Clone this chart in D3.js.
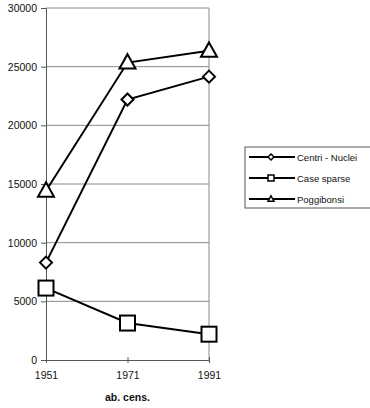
<!DOCTYPE html>
<html>
<head>
<meta charset="utf-8">
<script src="https://cdn.jsdelivr.net/npm/d3@7"></script>
<style>
  html, body { margin: 0; padding: 0; background: #fff; }
  svg { display: block; font-family: "Liberation Sans", Arial, sans-serif; }
</style>
</head>
<body>
<svg id="chart" width="370" height="408"></svg>
<script>
// Census years and resident population series
const years = ["1951", "1971", "1991"];
const centriNuclei = [8300, 22200, 24150];
const caseSparse = [6130, 3150, 2200];
const poggibonsi = [14430, 25350, 26350];
const yTicks = [0, 5000, 10000, 15000, 20000, 25000, 30000];
const seriesNames = ["Centri - Nuclei", "Case sparse", "Poggibonsi"];
const xTitle = "ab. cens.";

const series = [
  { name: seriesNames[0], values: centriNuclei, shape: "diamond" },
  { name: seriesNames[1], values: caseSparse, shape: "square" },
  { name: seriesNames[2], values: poggibonsi, shape: "triangle" }
];

const svg = d3.select("#chart");
const plotLeft = 46, plotRight = 209, plotTop = 8, plotBottom = 360;

const x = d3.scalePoint().domain(years).range([plotLeft, plotRight]);
const y = d3.scaleLinear().domain([0, 30000]).range([plotBottom, plotTop]);

// horizontal gridlines
svg.append("g").selectAll("line").data(yTicks.slice(1)).join("line")
  .attr("x1", plotLeft).attr("x2", plotRight)
  .attr("y1", d => y(d)).attr("y2", d => y(d))
  .attr("stroke", "#8a8a8a").attr("stroke-width", 1);

// right border of plot area
svg.append("line").attr("x1", plotRight).attr("x2", plotRight)
  .attr("y1", plotTop).attr("y2", plotBottom)
  .attr("stroke", "#8a8a8a").attr("stroke-width", 1);

// y axis
const yAxis = svg.append("g").attr("transform", `translate(${plotLeft},0)`)
  .call(d3.axisLeft(y).tickValues(yTicks).tickFormat(d3.format("d")).tickSize(5).tickPadding(4));
yAxis.select(".domain").attr("stroke", "#555");
yAxis.selectAll(".tick line").attr("stroke", "#555");
yAxis.selectAll("text").attr("font-size", 10.5).attr("fill", "#111");

// x axis
const xAxis = svg.append("g").attr("transform", `translate(0,${plotBottom})`)
  .call(d3.axisBottom(x).tickSize(3).tickPadding(9).tickSizeOuter(0));
xAxis.select(".domain").attr("stroke", "#555");
xAxis.selectAll(".tick line").attr("stroke", "#555").attr("y1", -3);
xAxis.selectAll("text").attr("font-size", 10.5).attr("fill", "#111");

svg.append("text").attr("x", x("1971")).attr("y", 401)
  .attr("text-anchor", "middle").attr("font-size", 10.5).attr("font-weight", "bold")
  .attr("fill", "#111").text(xTitle);

function marker(g, shape, cx, cy, s) {
  if (shape === "diamond") {
    g.append("path").attr("d", `M${cx},${cy - s}L${cx + s},${cy}L${cx},${cy + s}L${cx - s},${cy}Z`);
  } else if (shape === "square") {
    g.append("rect").attr("x", cx - s).attr("y", cy - s).attr("width", 2 * s).attr("height", 2 * s);
  } else {
    g.append("path").attr("d", `M${cx},${cy - s * 1.05}L${cx + s},${cy + s * 0.75}L${cx - s},${cy + s * 0.75}Z`);
  }
}

const line = d3.line().x((d, i) => x(years[i])).y(d => y(d));
const sizes = { diamond: 6, square: 7.5, triangle: 8 };

series.forEach(s => {
  svg.append("path").attr("d", line(s.values))
    .attr("fill", "none").attr("stroke", "#000").attr("stroke-width", 2);
});
series.forEach(s => {
  const g = svg.append("g").attr("fill", "#fff").attr("stroke", "#000").attr("stroke-width", 2);
  s.values.forEach((v, i) => marker(g, s.shape, x(years[i]), y(v), sizes[s.shape]));
});

// legend
const lg = svg.append("g");
lg.append("rect").attr("x", 245).attr("y", 147).attr("width", 130).attr("height", 61)
  .attr("fill", "#fff").attr("stroke", "#555").attr("stroke-width", 1);
series.forEach((s, i) => {
  const ly = 157 + i * 21;
  lg.append("line").attr("x1", 249).attr("x2", 295).attr("y1", ly).attr("y2", ly)
    .attr("stroke", "#000").attr("stroke-width", 2);
  const mg = lg.append("g").attr("fill", "#fff").attr("stroke", "#000").attr("stroke-width", 1.5);
  marker(mg, s.shape, 271, ly, 3);
  lg.append("text").attr("x", 297).attr("y", ly + 3.5).attr("font-size", 9.5)
    .attr("fill", "#111").text(s.name);
});
</script>
</body>
</html>
